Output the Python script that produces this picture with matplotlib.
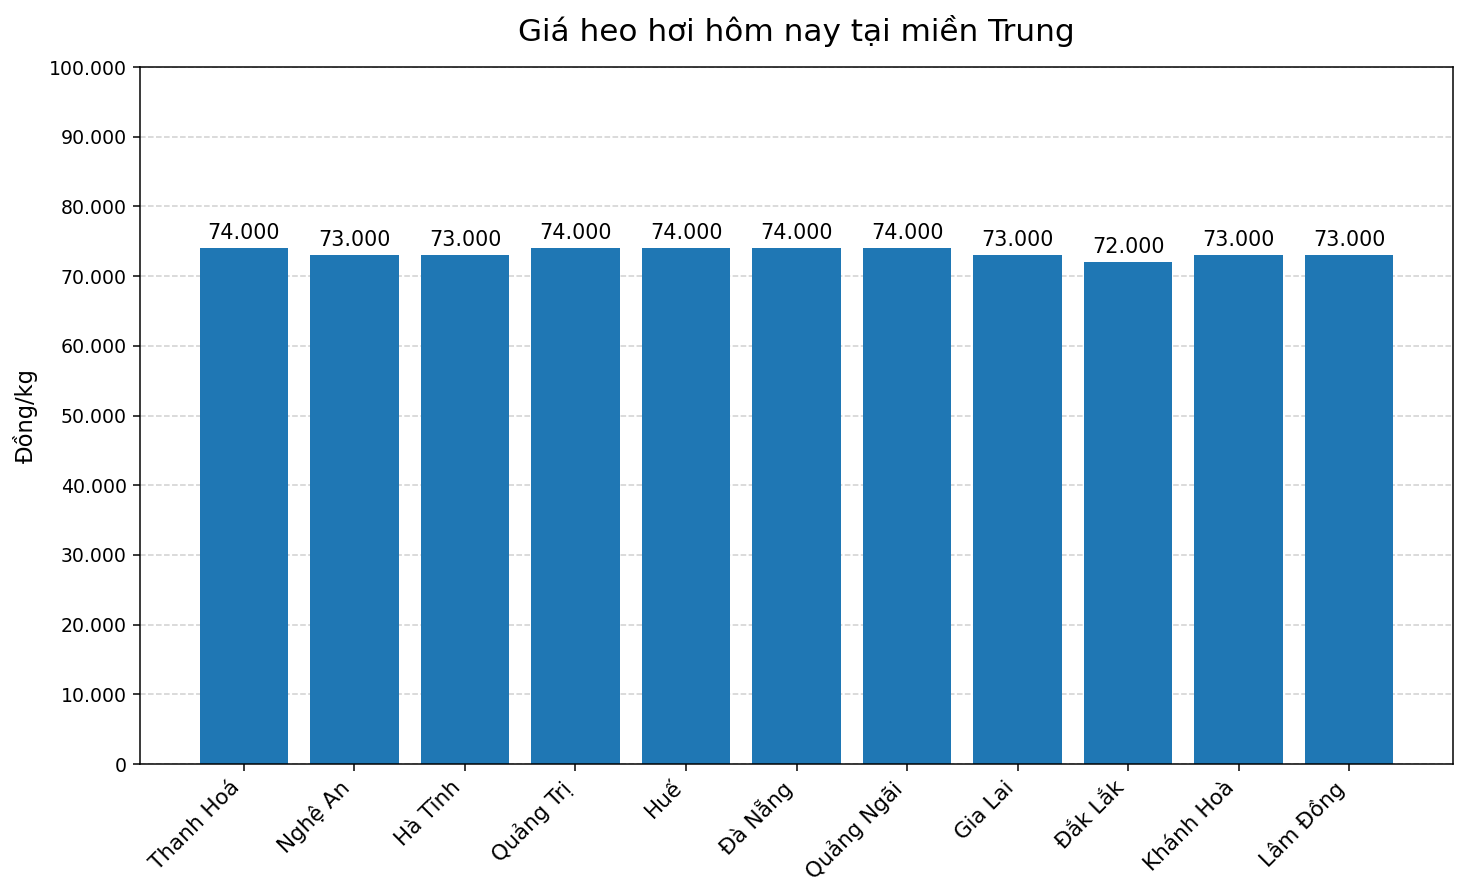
import matplotlib
matplotlib.use('Agg')
import matplotlib.pyplot as plt
from matplotlib.ticker import FuncFormatter

# Data
provinces = ['Thanh Hoá', 'Nghệ An', 'Hà Tĩnh', 'Quảng Trị', 'Huế', 'Đà Nẵng',
             'Quảng Ngãi', 'Gia Lai', 'Đắk Lắk', 'Khánh Hoà', 'Lâm Đồng']
prices = [74000, 73000, 73000, 74000, 74000, 74000, 74000, 73000, 72000, 73000, 73000]


def vn_format(v, pos=None):
    return f'{int(v):,}'.replace(',', '.')


fig = plt.figure(figsize=(1468 / 136, 896 / 136), dpi=136)
ax = fig.add_axes([0.0954, 0.1473, 0.8944, 0.7779])

bars = ax.bar(provinces, prices, color='#1f77b4', width=0.8, zorder=2)
ax.bar_label(bars, labels=[vn_format(p) for p in prices], padding=3, fontsize=11)

ax.set_ylim(0, 100000)
ax.set_yticks(range(0, 100001, 10000))
ax.yaxis.set_major_formatter(FuncFormatter(vn_format))
ax.grid(axis='y', linestyle='--', alpha=0.6, zorder=0)
ax.set_axisbelow(True)

ax.set_title('Giá heo hơi hôm nay tại miền Trung', fontsize=16.5, pad=14)
ax.set_ylabel('Đồng/kg', fontsize=12, labelpad=6)
plt.setp(ax.get_xticklabels(), rotation=45, ha='right', fontsize=11.4)

fig.savefig('out.png', dpi=136)
